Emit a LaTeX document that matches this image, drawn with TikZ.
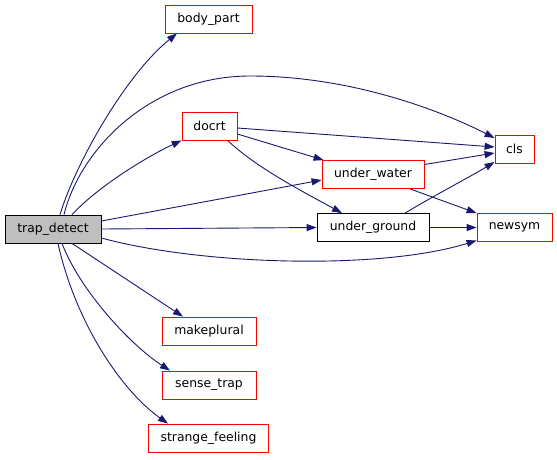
\documentclass[tikz,border=0pt]{standalone}
\usepackage{fontspec}
\setmainfont{DejaVu Sans}
\usetikzlibrary{arrows.meta}
\definecolor{edgeblue}{RGB}{25,25,112}
\definecolor{boxred}{RGB}{255,0,0}
\definecolor{rootgray}{RGB}{191,191,191}
\begin{document}
\begin{tikzpicture}[x=1pt,y=-1pt,
  box/.style={draw=boxred, line width=0.8pt, minimum height=28pt, inner sep=0pt,
    font=\fontsize{12.4}{14}\selectfont, fill=white},
  rootbox/.style={box, draw=black, fill=rootgray},
  plainbox/.style={box, draw=black},
  edge/.style={draw=edgeblue, line width=0.9pt, -{Triangle[length=10pt,width=7pt]}}]
\useasboundingbox (0,0) rectangle (557,459);
\fill[white] (0,0) rectangle (557,459);
% nodes
\node[rootbox, minimum width=96pt] (td) at (53,229) {trap\_detect};
\node[box, minimum width=87pt] (bp) at (208.5,19) {body\_part};
\node[box, minimum width=55pt] (dc) at (209.5,126) {docrt};
\node[box, minimum width=39pt] (cls) at (514.5,149) {cls};
\node[box, minimum width=102pt] (uw) at (373,174.5) {under\_water};
\node[plainbox, minimum width=112pt] (ug) at (373,227.5) {under\_ground};
\node[box, minimum width=75pt] (ns) at (514.5,227.5) {newsym};
\node[box, minimum width=94pt] (mp) at (209,331) {makeplural};
\node[box, minimum width=94pt] (st) at (209,385) {sense\_trap};
\node[box, minimum width=120pt] (sf) at (208.5,438) {strange\_feeling};
\coordinate (tdclsmid) at (250,76);
% edges from trap_detect
\draw[edge] ([xshift=7pt]td.north) .. controls +(15,-50) and +(-52,42) .. ([xshift=-31.5pt]bp.south);
\draw[edge] ([xshift=11pt]td.north) .. controls +(16,-65) and +(-100,0) .. (tdclsmid)
  .. controls +(100,0) and +(-55,-28) .. ([yshift=11pt]cls.west);
\draw[edge] ([xshift=19pt]td.north) .. controls +(28,-30) and +(-32,15) .. (dc.south west);
\draw[edge] ([yshift=8pt]td.east) -- ([yshift=-5.5pt]uw.west);
\draw[edge] (td.east) -- (ug.west);
\draw[edge] ([yshift=-9pt]td.east) .. controls +(99,27) and +(-97,30) .. ([yshift=-13pt]ns.west);
\draw[edge] ([xshift=19pt]td.south) -- ([xshift=-26pt]mp.north);
\draw[edge] ([xshift=9pt]td.south) .. controls +(18,47) and +(-40,-26) .. ([xshift=-39pt]st.north);
\draw[edge] ([xshift=5pt]td.south) .. controls +(17,77) and +(-48,-34) .. ([xshift=-40.5pt]sf.north);
% edges from docrt
\draw[edge] ([yshift=-2pt]dc.east) -- ([yshift=2pt]cls.west);
\draw[edge] ([yshift=-8pt]dc.east) -- ([xshift=2pt]uw.north west);
\draw[edge] ([xshift=18pt]dc.south) .. controls +(30,28) and +(-40,-22) .. ([xshift=-31pt]ug.north);
% edges from under_water / under_ground
\draw[edge] ([yshift=10pt]uw.east) -- ([yshift=-4pt]cls.west);
\draw[edge] ([xshift=37pt]uw.south) -- (ns.north west);
\draw[edge] ([xshift=32pt]ug.north) .. controls +(30,-18) and +(-25,15) .. ([yshift=-13pt]cls.west);
\draw[edge] (ug.east) -- (ns.west);
\end{tikzpicture}
\end{document}
